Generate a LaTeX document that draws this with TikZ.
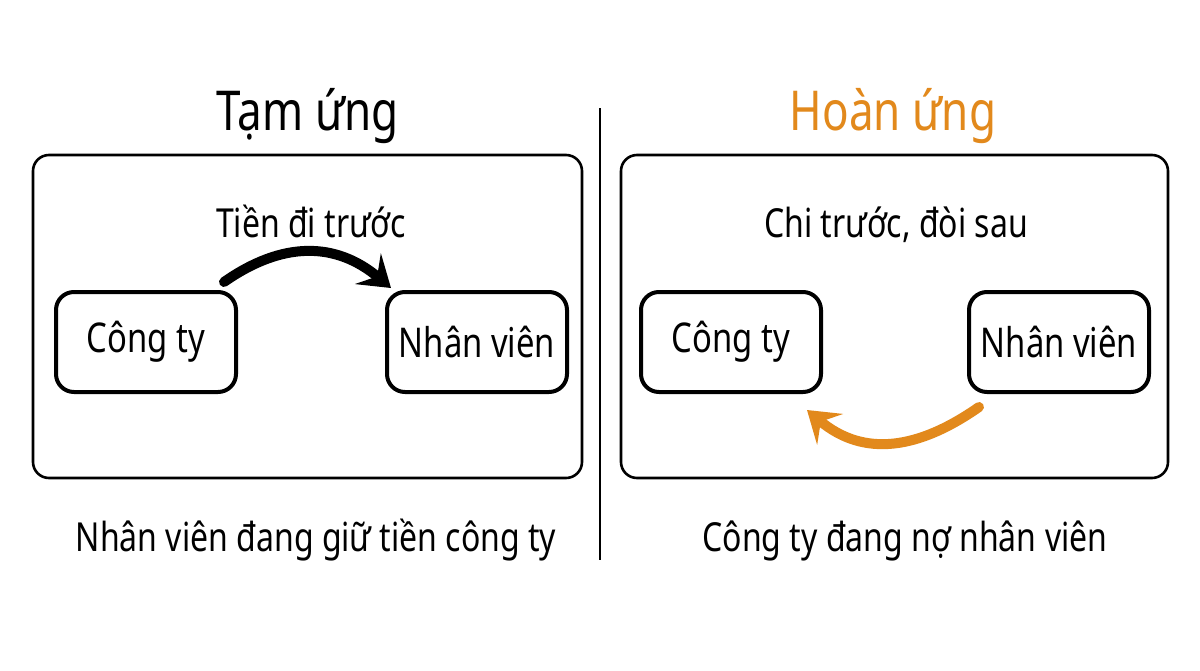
\documentclass[tikz,border=0pt]{standalone}
\usepackage{fontspec}
\setmainfont[FakeStretch=0.8]{Noto Sans}
\usetikzlibrary{arrows.meta}
\definecolor{accent}{HTML}{E2891C}
\tikzset{
  frame/.style={draw=black, line width=2.6pt, rounded corners=16pt},
  party/.style={draw=black, line width=4pt, rounded corners=18pt, minimum width=180pt, minimum height=100pt, inner sep=0pt, font=\fontsize{41}{44}\selectfont},
  title/.style={anchor=base, font=\fontsize{55}{60}\selectfont},
  caption/.style={anchor=base, font=\fontsize{40}{44}\selectfont},
  flow/.style={line width=10pt, line cap=round, -{Stealth[length=30pt,width=40pt,inset=12pt]}},
}
\begin{document}
\begin{tikzpicture}[x=1pt,y=-1pt]
\useasboundingbox[fill=white] (0,0) rectangle (1200,670);
% divider
\coordinate (dtop) at (600,108);
\coordinate (dbot) at (600,560);
\draw[line width=2pt] (dtop) -- (dbot);
% left panel
\node[title] (ltitle) at (308,130) {Tạm ứng};
\draw[frame] (33,155) rectangle (582,478);
\node[caption] (lmid) at (311,237) {Tiền đi trước};
\node[party] (lc) at (146,342) {Công ty};
\node[party] (ln) at (477,342) {Nhân viên};
\draw[flow] ([xshift=-14pt,yshift=8pt]lc.north east) to[out=35,in=140,looseness=1.1] ([xshift=6pt,yshift=2pt]ln.north west);
\node[caption] (lbot) at (316,551) {Nhân viên đang giữ tiền công ty};
% right panel
\node[title, text=accent] (rtitle) at (893,130) {Hoàn ứng};
\draw[frame] (621,155) rectangle (1168,478);
\node[caption] (rmid) at (896,237) {Chi trước, đòi sau};
\node[party] (rc) at (731,342) {Công ty};
\node[party] (rn) at (1059,342) {Nhân viên};
\draw[flow, draw=accent] ([xshift=12pt,yshift=-13pt]rn.south west) to[out=215,in=-40,looseness=1.1] ([xshift=-16pt,yshift=-16pt]rc.south east);
\node[caption] (rbot) at (905,551) {Công ty đang nợ nhân viên};
\end{tikzpicture}
\end{document}
